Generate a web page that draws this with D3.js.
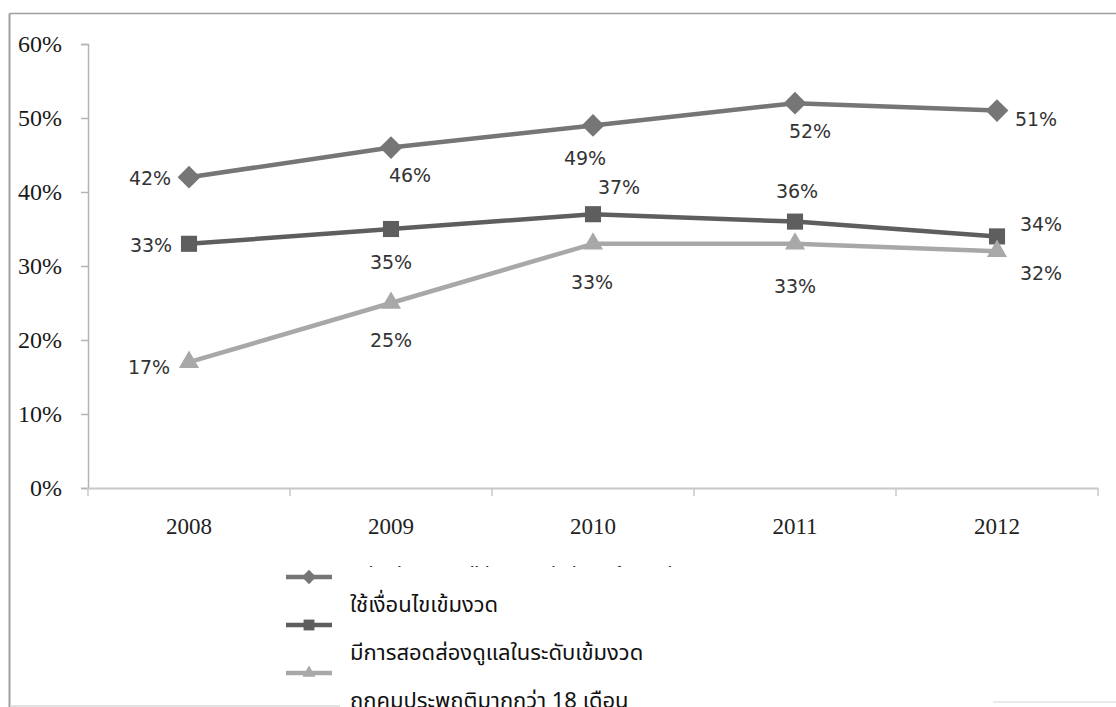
<!DOCTYPE html>
<html>
<head>
<meta charset="utf-8">
<script src="https://cdn.jsdelivr.net/npm/d3@7"></script>
<style>
  html, body { margin: 0; padding: 0; background: #fff; }
  svg { display: block; }
</style>
</head>
<body>
<svg id="chart" width="1116" height="707"></svg>
<script>
// Years on the category axis
const years = ["2008", "2009", "2010", "2011", "2012"];

// Share of cases per year, one array per series
const strictConditions = [0.42, 0.46, 0.49, 0.52, 0.51];
const intensiveSupervision = [0.33, 0.35, 0.37, 0.36, 0.34];
const probationOver18 = [0.17, 0.25, 0.33, 0.33, 0.32];

// Series names shown in the legend
const seriesNames = [
  "ใช้เงื่อนไขเข้มงวด",
  "มีการสอดส่องดูแลในระดับเข้มงวด",
  "ถูกคุมประพฤติมากกว่า 18 เดือน"
];

// Value-axis ticks
const yTicks = [0, 0.1, 0.2, 0.3, 0.4, 0.5, 0.6];

// Label offsets (dx, dy) from each point, per series
const labelOffsets = [
  [[-39, 1], [19, 28], [-8, 33], [15, 28], [39, 9]],
  [[-38, 2], [0, 33], [26, -27], [2, -30], [44, -12]],
  [[-40, 5], [0, 37], [-1, 39], [0, 43], [44, 22]]
];

const series = [
  { name: seriesNames[0], values: strictConditions, color: "#767676", symbol: d3.symbolDiamond2, size: 330, legendSize: 130 },
  { name: seriesNames[1], values: intensiveSupervision, color: "#5e5e5e", symbol: d3.symbolSquare2, size: 330, legendSize: 150 },
  { name: seriesNames[2], values: probationOver18, color: "#a8a8a8", symbol: d3.symbolTriangle2, size: 290, legendSize: 120 }
];

const svg = d3.select("#chart");
const defs = svg.append("defs");

// Outer frame
const frame = svg.append("g").attr("stroke", "#a0a0a0").attr("fill", "none");
frame.append("line").attr("x1", 9.5).attr("x2", 1116).attr("y1", 13.5).attr("y2", 13.5).attr("stroke-width", 1.5);
frame.append("line").attr("x1", 9.5).attr("x2", 9.5).attr("y1", 13.5).attr("y2", 707).attr("stroke-width", 2);

const plot = { left: 88, right: 1098, top: 44, bottom: 488 };

const x = d3.scaleBand().domain(years).range([plot.left, plot.right]);
const y = d3.scaleLinear().domain([0, 0.6]).range([plot.bottom, plot.top]);
const cx = d => x(d) + x.bandwidth() / 2;

const serif = "'Liberation Serif', 'DejaVu Serif', 'Times New Roman', serif";

// Value axis
const yAxis = svg.append("g")
  .attr("transform", `translate(${plot.left},0)`)
  .call(d3.axisLeft(y).tickValues(yTicks).tickSize(7).tickPadding(19).tickFormat(d3.format(".0%")));
yAxis.attr("font-family", serif).attr("font-size", 24);
yAxis.select(".domain").attr("stroke", "#b4b4b4").attr("stroke-width", 1.5);
yAxis.selectAll(".tick line").attr("stroke", "#b4b4b4").attr("stroke-width", 1.5);
yAxis.selectAll(".tick text").attr("fill", "#1a1a1a");

// Category axis: labels centred in bands, ticks at band edges
const xAxis = svg.append("g")
  .attr("transform", `translate(0,${plot.bottom})`)
  .call(d3.axisBottom(x).tickSize(0).tickPadding(30));
xAxis.attr("font-family", serif).attr("font-size", 23);
xAxis.select(".domain").attr("stroke", "#c8c8c8").attr("stroke-width", 2);
xAxis.selectAll(".tick text").attr("fill", "#222");
const edges = years.map(d => x(d)).concat([x(years[years.length - 1]) + x.step()]);
xAxis.selectAll("line.edge")
  .data(edges)
  .join("line")
  .attr("class", "edge")
  .attr("x1", d => d).attr("x2", d => d)
  .attr("y1", 0).attr("y2", 8)
  .attr("stroke", "#c8c8c8").attr("stroke-width", 1.5);

// Lines, markers and value labels
const line = d3.line().x((v, i) => cx(years[i])).y(v => y(v));

series.forEach((s, si) => {
  const g = svg.append("g");
  g.append("path")
    .attr("d", line(s.values))
    .attr("fill", "none")
    .attr("stroke", s.color)
    .attr("stroke-width", 4.5)
    .attr("stroke-linejoin", "round");
  g.selectAll("path.mark")
    .data(s.values)
    .join("path")
    .attr("class", "mark")
    .attr("transform", (v, i) => `translate(${cx(years[i])},${y(v)})`)
    .attr("d", d3.symbol().type(s.symbol).size(s.size))
    .attr("fill", s.color);
});

series.forEach((s, si) => {
  svg.append("g").selectAll("text")
    .data(s.values)
    .join("text")
    .attr("x", (v, i) => cx(years[i]) + labelOffsets[si][i][0])
    .attr("y", (v, i) => y(v) + labelOffsets[si][i][1])
    .attr("dy", "0.35em")
    .attr("text-anchor", "middle")
    .attr("font-family", "'DejaVu Sans', Verdana, sans-serif")
    .attr("font-size", 19)
    .attr("fill", "#333")
    .text(v => d3.format(".0%")(v));
});

// Legend
const legend = svg.append("g");
const legendRows = [577, 625, 673];
defs.append("clipPath").attr("id", "legend-head")
  .append("rect").attr("x", 330).attr("y", 550).attr("width", 400).attr("height", 17);

// English caption that sits behind the Thai legend box
legend.append("g")
  .attr("clip-path", "url(#legend-head)")
  .append("text")
  .attr("x", 337).attr("y", 581)
  .attr("font-family", "'Liberation Sans', Arial, sans-serif")
  .attr("font-size", 20)
  .attr("fill", "#222")
  .attr("textLength", 335)
  .text("Probation conditions strictly enforced");

series.forEach((s, si) => {
  const yy = legendRows[si];
  legend.append("line")
    .attr("x1", 286).attr("x2", 332)
    .attr("y1", yy).attr("y2", yy)
    .attr("stroke", s.color).attr("stroke-width", 4.5);
  legend.append("path")
    .attr("transform", `translate(309,${yy})`)
    .attr("d", d3.symbol().type(s.symbol).size(s.legendSize))
    .attr("fill", s.color);
});

const box = legend.append("g");
box.append("rect").attr("x", 333).attr("y", 570).attr("width", 420).attr("height", 137).attr("fill", "#fff");
seriesNames.forEach((name, i) => {
  box.append("text")
    .attr("x", 350)
    .attr("y", legendRows[i] + 35)
    .attr("font-family", "'Noto Sans Thai', 'Noto Sans Thai Looped', Tahoma, 'Noto Sans', sans-serif")
    .attr("font-size", 22)
    .attr("fill", "#111")
    .text(name);
});

// Faint bottom edge of the frame
svg.append("line").attr("x1", 10).attr("x2", 340).attr("y1", 706).attr("y2", 706).attr("stroke", "#d8d8d8").attr("stroke-width", 1.5);
svg.append("line").attr("x1", 993).attr("x2", 1116).attr("y1", 702).attr("y2", 702).attr("stroke", "#e4e4e4").attr("stroke-width", 1.5);
</script>
</body>
</html>
